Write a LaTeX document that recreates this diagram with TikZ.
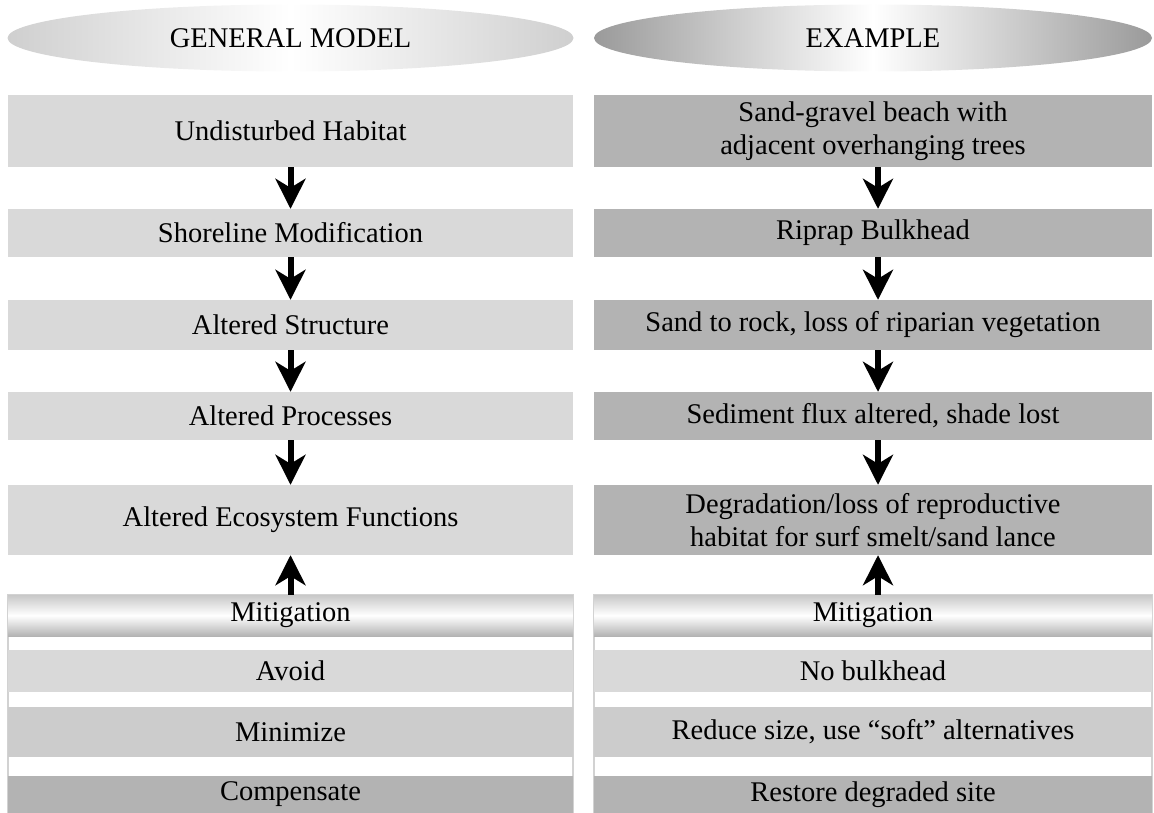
\documentclass[tikz,border=0pt]{standalone}
\usepackage{fontspec}
\setmainfont{Liberation Serif}
\usepackage{tikz}
\usetikzlibrary{positioning}
\usetikzlibrary{shapes.geometric}
\usetikzlibrary{arrows.meta}

\definecolor{lgray}{HTML}{D9D9D9}
\definecolor{mgray}{HTML}{CCCCCC}
\definecolor{dgray}{HTML}{B3B3B3}
\definecolor{hgray}{HTML}{CFCFCF}
\definecolor{hdark}{HTML}{9A9A9A}
\definecolor{fgray}{HTML}{C8C8C8}

\tikzset{
  txt/.style={font=\fontsize{28.5pt}{33pt}\selectfont, align=center, inner sep=0pt},
  lbox/.style={txt, fill=lgray, minimum width=565pt},
  rbox/.style={txt, fill=dgray, minimum width=558pt},
  head/.style={txt, ellipse, minimum height=67pt},
  mitbar/.style={txt, top color=fgray, bottom color=dgray, middle color=white},
  flow/.style={line width=6pt, -{Stealth[length=30pt,width=30pt,inset=9pt]}}
}

\begin{document}
\begin{tikzpicture}[x=1pt,y=-1pt]
        \useasboundingbox (0,0) rectangle (1154,813);

        \node[head, minimum width=566pt, left color=hgray, right color=hgray, middle color=white] (hl) at (290.5,38) {GENERAL MODEL};
        \node[head, minimum width=558pt, left color=hdark, right color=hdark, middle color=white] (hr) at (873,38) {EXAMPLE};

        % general model
        \node[lbox, minimum height=72pt] (la) at (290.5,131) {Undisturbed Habitat};
        \node[lbox, minimum height=48pt] (lb) at (290.5,233) {Shoreline Modification};
        \node[lbox, minimum height=50pt] (lc) at (290.5,325) {Altered Structure};
        \node[lbox, minimum height=48pt] (ld) at (290.5,416) {Altered Processes};
        \node[lbox, minimum height=70pt] (le) at (290.5,520) {Altered Ecosystem Functions};

        % example
        \node[rbox, minimum height=72pt] (ra) at (873,131) {Sand-gravel beach with\\adjacent overhanging trees};
        \node[rbox, minimum height=48pt] (rb) at (873,233) {Riprap Bulkhead};
        \node[rbox, minimum height=50pt] (rc) at (873,325) {Sand to rock, loss of riparian vegetation};
        \node[rbox, minimum height=48pt] (rd) at (873,416) {Sediment flux altered, shade lost};
        \node[rbox, minimum height=70pt] (re) at (873,520) {Degradation/loss of reproductive\\habitat for surf smelt/sand lance};

        % mitigation
        \draw[gray!35, line width=1.5pt] (8,595) rectangle (573,813);
        \draw[gray!35, line width=1.5pt] (594,595) rectangle (1152,813);
        \node[mitbar, minimum width=565pt, minimum height=41pt] (lm) at (290.5,615.5) {Mitigation};
        \node[lbox, minimum height=42pt] (lm1) at (290.5,671) {Avoid};
        \node[lbox, fill=mgray, minimum height=50pt] (lm2) at (290.5,732) {Minimize};
        \node[lbox, fill=dgray, minimum height=37pt] (lm3) at (290.5,794.5) {Compensate};

        \node[mitbar, minimum width=558pt, minimum height=41pt] (rm) at (873,615.5) {Mitigation};
        \node[rbox, fill=lgray, minimum height=42pt] (rm1) at (873,671) {No bulkhead};
        \node[rbox, fill=mgray, minimum height=50pt] (rm2) at (873,732) {Reduce size, use “soft” alternatives};
        \node[rbox, minimum height=37pt] (rm3) at (873,794.5) {Restore degraded site};

        \draw[flow] (la) -- (lb);
        \draw[flow] (lb) -- (lc);
        \draw[flow] (lc) -- (ld);
        \draw[flow] (ld) -- (le);
        \draw[flow] (lm) -- (le);

        \draw[flow] ([xshift=5pt]ra.south) -- ([xshift=5pt]rb.north);
        \draw[flow] ([xshift=5pt]rb.south) -- ([xshift=5pt]rc.north);
        \draw[flow] ([xshift=5pt]rc.south) -- ([xshift=5pt]rd.north);
        \draw[flow] ([xshift=5pt]rd.south) -- ([xshift=5pt]re.north);
        \draw[flow] ([xshift=5pt]rm.north) -- ([xshift=5pt]re.south);
      \end{tikzpicture}
\end{document}
